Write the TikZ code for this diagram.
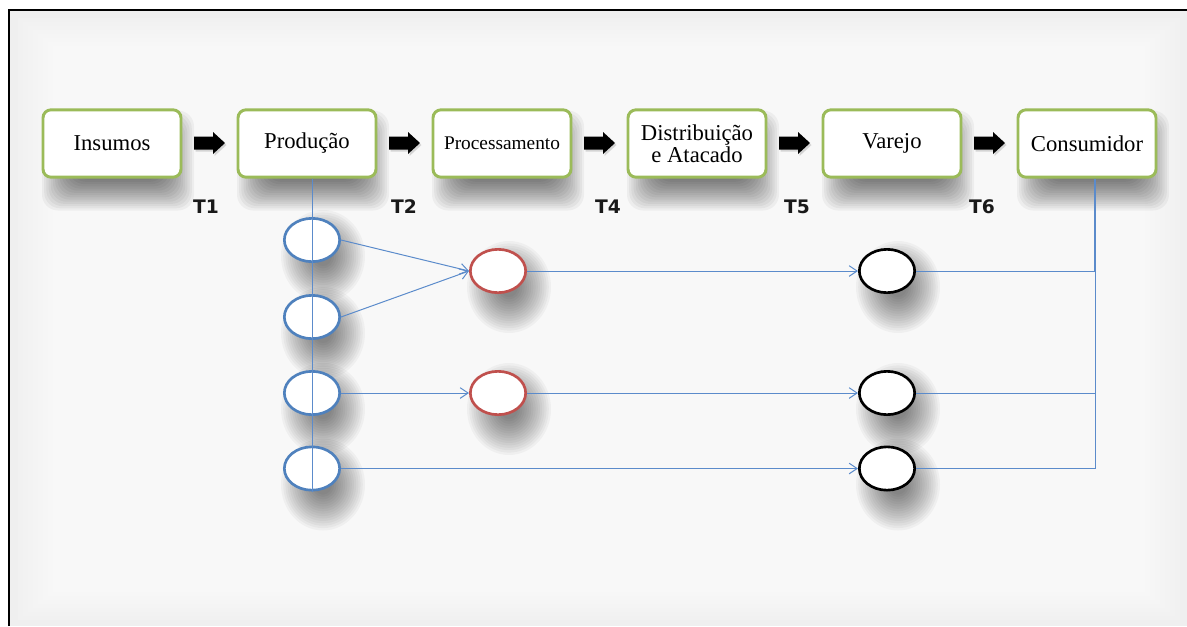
\documentclass[tikz,border=0pt]{standalone}
\usepackage{fontspec}
\setmainfont{Liberation Serif}
\newfontfamily\labelfont{DejaVu Sans}
\usetikzlibrary{shapes.geometric,arrows.meta,calc}

\definecolor{boxgreen}{HTML}{9BBB59}
\definecolor{nodeblue}{HTML}{4F81BD}
\definecolor{nodered}{HTML}{C0504D}
\definecolor{linkblue}{HTML}{5B8BCB}
\definecolor{bgedge}{HTML}{EFEFEF}

% soft shadows built from stacked translucent layers
\newcommand\boxshade[2]{%
  \foreach \k in {0,...,15}{%
    \fill[black,opacity=0.045,rounded corners=12pt]
      ({#1+6-76+2.2*\k},{#2+17-50+2.2*\k}) rectangle ({#1+6+76-2.2*\k},{#2+17+50-2.2*\k});}}
\newcommand\ovalshade[2]{%
  \foreach \k in {0,...,15}{%
    \fill[black,opacity=0.035]
      ({#1+11},{#2+16}) ellipse [x radius={42-2.2*\k}, y radius={46-2.4*\k}];}}

\tikzset{
  stage/.style={draw=boxgreen, line width=2.2pt, fill=white, rounded corners=6pt,
    minimum width=103.5pt, minimum height=50.5pt, inner sep=2pt, align=center,
    font=\fontsize{17}{15}\selectfont},
  blockarrow/.pic={
    \fill[black!30, opacity=0.5] (-14,8.5) -- (5,8.5) -- (5,13) -- (17,2) -- (5,-9) -- (5,-4.5) -- (-14,-4.5) -- cycle;
    \fill[black] (-15.5,6.5) -- (3.5,6.5) -- (3.5,11) -- (15.5,0) -- (3.5,-11) -- (3.5,-6.5) -- (-15.5,-6.5) -- cycle;
  },
  tlabel/.style={font=\labelfont\bfseries\fontsize{14}{16}\selectfont, text=black!90, inner sep=0pt},
  slot/.style={ellipse, minimum width=41.5pt, minimum height=32.5pt, inner sep=0pt,
    fill=white, line width=2pt},
  prodslot/.style={slot, draw=nodeblue},
  procslot/.style={slot, draw=nodered},
  retslot/.style={slot, draw=black},
  link/.style={draw=linkblue, line width=0.75pt},
  flow/.style={link, -{Straight Barb[length=6pt,width=8pt]}},
}

\begin{document}
\begin{tikzpicture}[x=0.75pt,y=-0.75pt]
\useasboundingbox (0,0) rectangle (1187,626);

% page background with a soft light vignette
\fill[white] (0,0) rectangle (1187,626);
\fill[bgedge] (9,10) rectangle (1187,626);
\foreach \i in {0,...,11}
  \fill[white,opacity=0.14] ({18+5*\i},{18+4*\i}) rectangle ({1180-5*\i},{620-4*\i});
\draw[line width=2.2pt] (9,626) -- (9,10) -- (1187,10);

% shadows
\foreach \cx in {112,307,502,697,892,1087} { \boxshade{\cx}{143.5} }
\foreach \cx/\cy in {312/240,312/317,312/393,312/468.5,498/271,498/393,887/271,887/393,887/468.5}
  { \ovalshade{\cx}{\cy} }

% chain stages
\node[stage] (ins)  at (112,143.5)  {Insumos};
\node[stage] (prod) at (307,143.5)  {Produção};
\node[stage, font=\fontsize{14.5}{15}\selectfont] (proc) at (502,143.5) {Processamento};
\node[stage] (dist) at (697,143.5)  {Distribuição\\e Atacado};
\node[stage] (var)  at (892,143.5)  {Varejo};
\node[stage] (cons) at (1087,143.5) {Consumidor};

% block arrows between stages
\pic at (209.5,143) {blockarrow};
\pic at (404.5,143) {blockarrow};
\pic at (599.5,143) {blockarrow};
\pic at (794.5,143) {blockarrow};
\pic at (989.5,143) {blockarrow};

% transaction labels
\node[tlabel] (t1) at (206,207) {T1};
\node[tlabel] (t2) at (404,207) {T2};
\node[tlabel] (t4) at (608,207) {T4};
\node[tlabel] (t5) at (797,207) {T5};
\node[tlabel] (t6) at (982,207) {T6};

% agents
\node[prodslot] (b1) at (312,240) {};
\node[prodslot] (b2) at (312,317) {};
\node[prodslot] (b3) at (312,393) {};
\node[prodslot] (b4) at (312,468.5) {};
\node[procslot] (r1) at (498,271) {};
\node[procslot] (r2) at (498,393) {};
\node[retslot]  (k1) at (887,271) {};
\node[retslot]  (k2) at (887,393) {};
\node[retslot]  (k3) at (887,468.5) {};

% producers' spine
\draw[link] (prod.south -| b1.center) -- (b4.south);

% flows between agents
\draw[flow] (b1.east) -- (r1.west);
\draw[flow] (b2.east) -- (r1.west);
\draw[flow] (b3.east) -- (r2.west);
\draw[flow] (b4.east) -- (k3.west);
\draw[flow] (r1.east) -- (k1.west);
\draw[flow] (r2.east) -- (k2.west);

% consumer bus
\coordinate (bus) at (1095,468.5);
\draw[link, line width=1.5pt] (cons.south -| bus) -- (k1.east -| bus);
\draw[link] (k1.east) -- (k1.east -| bus) -- (bus) -- (k3.east);
\draw[link] (k2.east) -- (k2.east -| bus);
\end{tikzpicture}
\end{document}
